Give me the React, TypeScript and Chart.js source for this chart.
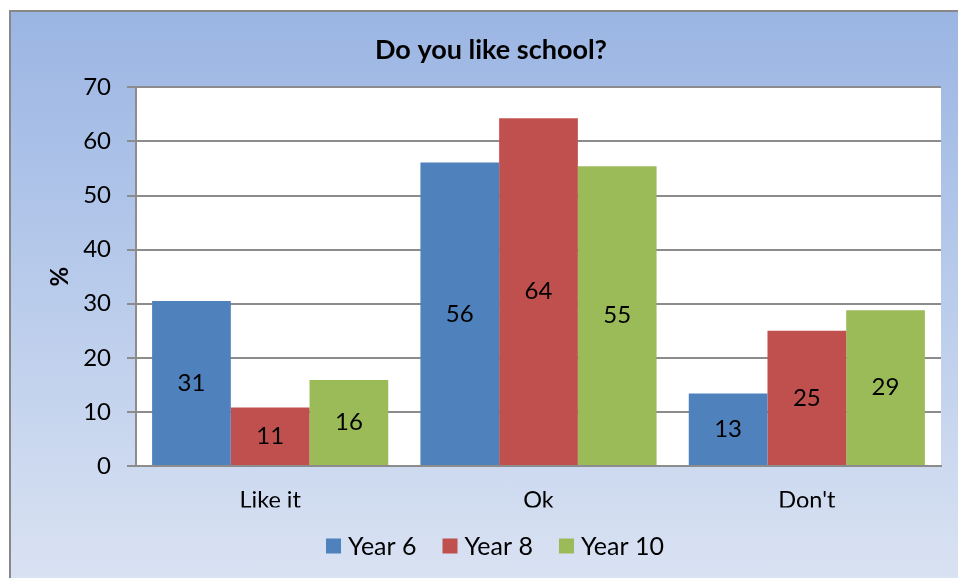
import React, { useEffect, useRef } from "react";
import { Chart, registerables } from "chart.js";

Chart.register(...registerables);

const categories = ["Like it", "Ok", "Don't"];
const year6 = [30.5, 56.1, 13.4];
const year8 = [10.8, 64.3, 25.0];
const year10 = [15.9, 55.4, 28.8];
const seriesNames = ["Year 6", "Year 8", "Year 10"];
const seriesColors = ["#4F81BD", "#C0504D", "#9BBB59"];
const yTicksMax = 70;
const yStep = 10;

const FONT = "Lato, 'Open Sans', sans-serif";

const plotBg = {
  id: "plotBg",
  beforeDraw(chart: any) {
    const { ctx, chartArea } = chart;
    ctx.save();
    ctx.fillStyle = "#ffffff";
    ctx.fillRect(chartArea.left, chartArea.top, chartArea.right - chartArea.left, chartArea.bottom - chartArea.top);
    ctx.restore();
  },
};

const valueLabels = {
  id: "valueLabels",
  afterDatasetsDraw(chart: any) {
    const { ctx } = chart;
    ctx.save();
    ctx.fillStyle = "#000";
    ctx.font = `24px ${FONT}`;
    ctx.textAlign = "center";
    ctx.textBaseline = "middle";
    chart.data.datasets.forEach((ds: any, i: number) => {
      const meta = chart.getDatasetMeta(i);
      meta.data.forEach((el: any, j: number) => {
        const v = ds.data[j];
        const y = (el.y + el.base) / 2;
        ctx.fillText(String(Math.round(v)), el.x, y);
      });
    });
    ctx.restore();
  },
};

// Custom legend: Excel-like small gap between swatch and text
const customLegend = {
  id: "customLegend",
  afterDraw(chart: any) {
    const { ctx } = chart;
    const box = 15;
    const boxGap = 7;
    const itemGap = 26;
    const centerX = 484;
    const centerY = chart.chartArea.bottom + 80;
    ctx.save();
    ctx.font = `25px ${FONT}`;
    ctx.textBaseline = "middle";
    ctx.textAlign = "left";
    const items = chart.data.datasets.map((ds: any) => ({
      text: ds.label,
      color: ds.backgroundColor,
      w: ctx.measureText(ds.label).width,
    }));
    const total = items.reduce((s: number, it: any) => s + box + boxGap + it.w, 0) + itemGap * (items.length - 1);
    let x = centerX - total / 2;
    items.forEach((it: any) => {
      ctx.fillStyle = it.color;
      ctx.fillRect(x, centerY - box / 2, box, box);
      ctx.fillStyle = "#000";
      ctx.fillText(it.text, x + box + boxGap, centerY + 1);
      x += box + boxGap + it.w + itemGap;
    });
    ctx.restore();
  },
};

export default function App() {
  const ref = useRef<HTMLCanvasElement | null>(null);
  useEffect(() => {
    if (!ref.current) return;
    const chart = new Chart(ref.current, {
      type: "bar",
      data: {
        labels: categories,
        datasets: [
          { label: seriesNames[0], data: year6, backgroundColor: seriesColors[0] },
          { label: seriesNames[1], data: year8, backgroundColor: seriesColors[1] },
          { label: seriesNames[2], data: year10, backgroundColor: seriesColors[2] },
        ],
      },
      options: {
        responsive: false,
        animation: false,
        devicePixelRatio: 1,
        layout: { padding: { left: 0, right: 0, top: 0, bottom: 82.5 } },
        datasets: { bar: { categoryPercentage: 0.88, barPercentage: 1 } },
        plugins: {
          title: {
            display: true,
            text: "Do you like school?",
            color: "#000",
            font: { family: FONT, size: 27, weight: "bold" },
            padding: { top: 22, bottom: 21 },
          },
          legend: { display: false },
          tooltip: { enabled: false },
        },
        scales: {
          x: {
            grid: { display: false, drawTicks: false },
            border: { display: true, color: "#8c8c8c", width: 2 },
            ticks: { color: "#000", font: { family: FONT, size: 23.5 }, padding: 20 },
            afterFit(scale: any) {
              scale.height = 41.5;
            },
          },
          y: {
            min: 0,
            max: yTicksMax,
            ticks: { stepSize: yStep, color: "#000", font: { family: FONT, size: 24 }, padding: 16 },
            grid: { color: "#8c8c8c", lineWidth: 2, tickLength: 9, drawTicks: true },
            border: { display: true, color: "#8c8c8c", width: 2 },
            title: {
              display: true,
              text: "%",
              color: "#000",
              font: { family: FONT, size: 24, weight: "bold" },
              padding: { top: 35, bottom: 0 },
            },
            afterFit(scale: any) {
              scale.width = 125;
            },
          },
          yRight: {
            position: "right",
            display: true,
            min: 0,
            max: yTicksMax,
            ticks: { display: false },
            grid: { display: false, drawTicks: false },
            border: { display: false },
            afterFit(scale: any) {
              scale.width = 30;
            },
          },
        },
      },
      plugins: [plotBg, valueLabels, customLegend],
    });
    return () => chart.destroy();
  }, []);

  return (
    <div style={{ position: "fixed", left: 0, top: 0, width: 958, height: 578, overflow: "hidden", background: "#fff" }}>
      <div
        style={{
          position: "absolute",
          left: 9,
          top: 10,
          width: 962,
          height: 590,
          borderLeft: "2px solid #888",
          borderTop: "2px solid #888",
          background: "linear-gradient(to bottom, #9BB5E3 0%, #B4C8EA 40%, #DCE4F3 100%)",
        }}
      >
        <canvas ref={ref} width={960} height={578} style={{ display: "block", width: 960, height: 578 }} />
      </div>
    </div>
  );
}
